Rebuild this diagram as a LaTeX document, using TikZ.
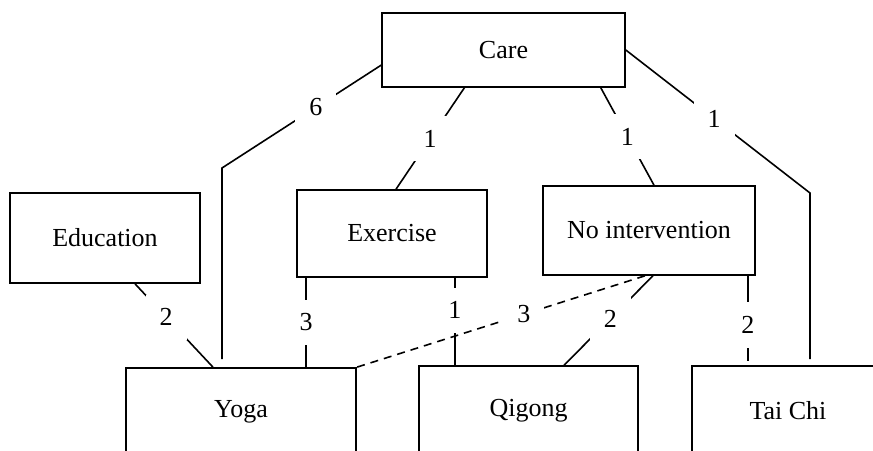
\documentclass[tikz,border=0pt]{standalone}
\usepackage{fontspec}
\setmainfont{Liberation Serif}
\usetikzlibrary{calc}

\begin{document}
\begin{tikzpicture}[x=0.5pt, y=-0.5pt, thick,
  box/.style={draw, inner sep=0pt, font=\fontsize{13}{15}\selectfont},
  num/.style={fill=white, inner sep=7pt, font=\fontsize{13}{15}\selectfont}]
\useasboundingbox (0,0) rectangle (873,450);
\clip (0,0) rectangle (873,450);
%boxes
\node[box, minimum width=121.5pt, minimum height=37pt] (care) at (503.5,50) {Care};
\node[box, minimum width=95pt, minimum height=45pt] (edu) at (105,238) {Education};
\node[box, minimum width=95pt, minimum height=43.5pt] (exercise) at (392,233.5) {Exercise};
\node[box, minimum width=106pt, minimum height=44.5pt] (noint) at (649,230.5) {No intervention};
\node[box, minimum width=115pt, minimum height=44pt] (yoga) at (241,412) {Yoga};
\node[box, minimum width=109.5pt, minimum height=45pt] (qigong) at (528.5,411) {Qigong};
\node[box, minimum width=96pt, minimum height=45pt] (taichi) at (788,411) {Tai Chi};
%bends and feet
\coordinate (yogaBend) at (222,168);
\coordinate (taiBend) at (810,193);
\coordinate (e3) at ($(exercise.south west)+(10,0)$);
\coordinate (e1) at ($(exercise.south east)+(-33,0)$);
\coordinate (n2) at ($(noint.south east)+(-8,0)$);
%links from care
\draw[shorten >=4pt] ($(care.south west)!0.3!(care.north west)$) -- node[num,pos=0.41]{6} (yogaBend) -- (yogaBend |- yoga.north);
\draw ($(care.south west)!0.34!(care.south east)$) -- node[num]{1} ($(exercise.north)+(4,0)$);
\draw ($(care.south east)+(-25,0)$) -- node[num]{1} ($(noint.north)+(5,0)$);
\draw[shorten >=3pt] (care.east) -- node[num,pos=0.48]{1} (taiBend) -- (taiBend |- taichi.north);
%links to the lower row
\draw ($(edu.south)+(30,0)$) -- node[num,pos=0.4]{2} ($(yoga.north)+(-28,0)$);
\draw (e3) -- node[num]{3} (e3 |- yoga.north);
\draw (e1) -- node[num,pos=0.37]{1} (e1 |- qigong.north);
\draw ($(noint.south)+(4,0)$) -- node[num,pos=0.48]{2} ($(qigong.north)+(35.5,0)$);
\draw[shorten >=2pt] (n2) -- node[num,pos=0.55]{2} (n2 |- taichi.north);
\draw[dash pattern=on 4pt off 3pt] ($(noint.south)+(-4,0)$) -- node[num,pos=0.42]{3} (yoga.north east);
\end{tikzpicture}
\end{document}
